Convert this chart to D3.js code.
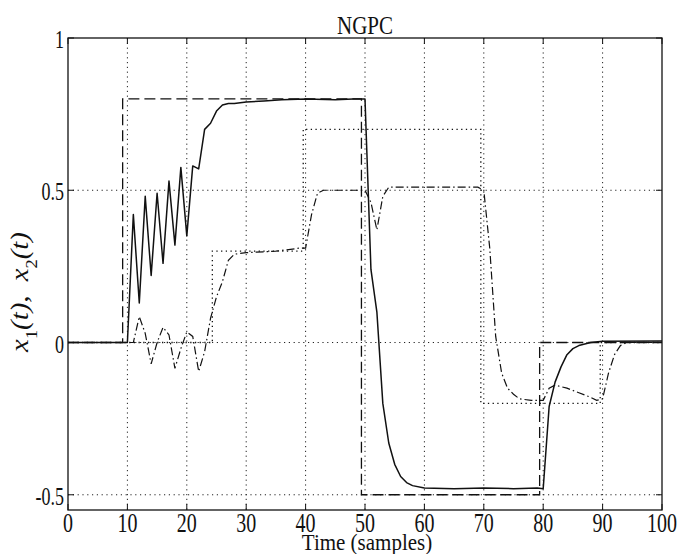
<!DOCTYPE html>
<html><head><meta charset="utf-8">
<script src="https://cdn.jsdelivr.net/npm/d3@7"></script>
<style>body{margin:0;background:#fff}text{font-family:"Liberation Serif","DejaVu Serif",serif;fill:#111}</style>
</head><body><svg id="c" width="683" height="554"></svg>
<script>
// ---- data ----
const xTicks = [0,10,20,30,40,50,60,70,80,90,100];
const yTicks = [-0.5,0,0.5,1];
const yTickLabels = ["-0.5","0","0.5","1"];
const titleText = "NGPC";
const xLabel = "Time (samples)";

// reference for x1 (dashed)
const r1T = [0, 9.2, 9.2, 49.4, 49.4, 79.4, 79.4, 100];
const r1V = [0, 0,   0.8, 0.8, -0.5, -0.5,  0,    0];
// reference for x2 (dotted)
const r2T = [0, 24.3, 24.3, 39.6, 39.6, 69.5, 69.5, 89.6, 89.6, 100];
const r2V = [0, 0,    0.3,  0.3,  0.7,  0.7, -0.2, -0.2,  0,    0];
// output x1 (solid)
const x1T = [0,10,11,12,13,14,15,16,17,18,19,20,21,22,23,24,25,26,27,28,30,33,36,40,45,48,49,50,51,52,53,54,55,56,57,58,60,65,70,75,79,80,81,82,83,84,85,86,88,90,100];
const x1V = [0,0,0.42,0.13,0.48,0.22,0.49,0.26,0.53,0.32,0.575,0.35,0.58,0.57,0.70,0.72,0.76,0.78,0.785,0.785,0.79,0.793,0.797,0.8,0.797,0.8,0.8,0.8,0.24,0.1,-0.2,-0.33,-0.40,-0.44,-0.46,-0.47,-0.478,-0.48,-0.478,-0.48,-0.478,-0.48,-0.21,-0.13,-0.08,-0.04,-0.02,-0.01,0,0.004,0.005];
// output x2 (dash-dot)
const x2T = [0,10,11,12,13,14,15,16,17,18,19,20,21,22,23,24,25,26,27,28,30,35,39,40,41,42,43,48,50,51,52,53,54,60,69,70,71,72,73,74,75,76,78,80,81,82,84,86,88,89,90,91,92,93,94,100];
const x2V = [0,0,0,0.085,0.03,-0.07,0,0.05,0.025,-0.085,-0.02,0.035,0.02,-0.095,-0.03,0.08,0.15,0.2,0.27,0.29,0.295,0.3,0.31,0.31,0.42,0.49,0.5,0.5,0.5,0.46,0.37,0.48,0.51,0.51,0.51,0.5,0.31,0.02,-0.1,-0.15,-0.17,-0.185,-0.19,-0.19,-0.15,-0.14,-0.15,-0.165,-0.18,-0.19,-0.185,-0.1,-0.04,-0.01,0,0];

// ---- drawing ----
const svg = d3.select("#c");
const M = {l:68, r:662, t:38, b:510};
const x = d3.scaleLinear().domain([0,100]).range([M.l, M.r]);
const y = d3.scaleLinear().domain([-0.55,1]).range([M.b, M.t]);
const ink = "#111";

// grid
const grid = svg.append("g").attr("stroke","#222").attr("stroke-width",1).attr("stroke-dasharray","1.2,3.6");
grid.selectAll("line.v").data(xTicks.filter(d=>d>0&&d<100)).join("line").attr("class","v")
  .attr("x1",d=>x(d)).attr("x2",d=>x(d)).attr("y1",M.t).attr("y2",M.b);
grid.selectAll("line.h").data(yTicks.filter(d=>d<1)).join("line").attr("class","h")
  .attr("x1",M.l).attr("x2",M.r).attr("y1",d=>y(d)).attr("y2",d=>y(d));

const line = d3.line().x(d=>x(d[0])).y(d=>y(d[1]));
const zip = (a,b)=>a.map((t,i)=>[t,b[i]]);

svg.append("path").attr("d", line(zip(r2T,r2V))).attr("fill","none")
  .attr("stroke",ink).attr("stroke-width",1.3).attr("stroke-dasharray","1.3,3.4");
svg.append("path").attr("d", line(zip(r1T,r1V))).attr("fill","none")
  .attr("stroke",ink).attr("stroke-width",1.3).attr("stroke-dasharray","11,5");
svg.append("path").attr("d", line(zip(x2T,x2V))).attr("fill","none")
  .attr("stroke",ink).attr("stroke-width",1.2).attr("stroke-dasharray","8,3,1.5,3");
svg.append("path").attr("d", line(zip(x1T,x1V))).attr("fill","none")
  .attr("stroke",ink).attr("stroke-width",1.5).attr("stroke-linejoin","round");

// ticks (inward, all four sides)
const tk = svg.append("g").attr("stroke",ink).attr("stroke-width",1);
xTicks.forEach(d=>{
  tk.append("line").attr("x1",x(d)).attr("x2",x(d)).attr("y1",M.b).attr("y2",M.b-6);
  tk.append("line").attr("x1",x(d)).attr("x2",x(d)).attr("y1",M.t).attr("y2",M.t+6);
});
yTicks.forEach(d=>{
  tk.append("line").attr("x1",M.l).attr("x2",M.l+6).attr("y1",y(d)).attr("y2",y(d));
  tk.append("line").attr("x1",M.r).attr("x2",M.r-6).attr("y1",y(d)).attr("y2",y(d));
});

// frame
svg.append("rect").attr("x",M.l).attr("y",M.t).attr("width",M.r-M.l).attr("height",M.b-M.t)
  .attr("fill","none").attr("stroke",ink).attr("stroke-width",1.3);

// tick labels
svg.append("g").selectAll("text").data(xTicks).join("text")
  .attr("transform",d=>`translate(${x(d)},532) scale(1,1.35)`)
  .attr("text-anchor","middle").style("font-size","20px").text(d=>d);
svg.append("g").selectAll("text").data(yTicks).join("text")
  .attr("transform",d=>`translate(64,${y(d)+10}) scale(1,1.35)`)
  .attr("text-anchor","end").style("font-size","18px").text((d,i)=>yTickLabels[i]);

// title & axis labels
svg.append("text").attr("transform",`translate(365,34) scale(1,1.2)`)
  .attr("text-anchor","middle").style("font-size","21px").text(titleText);
svg.append("text").attr("transform",`translate(367,550) scale(1,1.1)`)
  .attr("text-anchor","middle").style("font-size","21px").text(xLabel);

const yl = svg.append("text").attr("transform","translate(28,292) rotate(-90) scale(1.15,1)")
  .attr("text-anchor","middle").style("font-size","25px").style("font-style","italic");
yl.append("tspan").text("x");
yl.append("tspan").attr("baseline-shift","sub").style("font-size","16px").style("font-style","normal").text("1");
yl.append("tspan").text("(t),\u00a0\u00a0");
yl.append("tspan").text("x");
yl.append("tspan").attr("baseline-shift","sub").style("font-size","16px").style("font-style","normal").text("2");
yl.append("tspan").text("(t)");
</script></body></html>
